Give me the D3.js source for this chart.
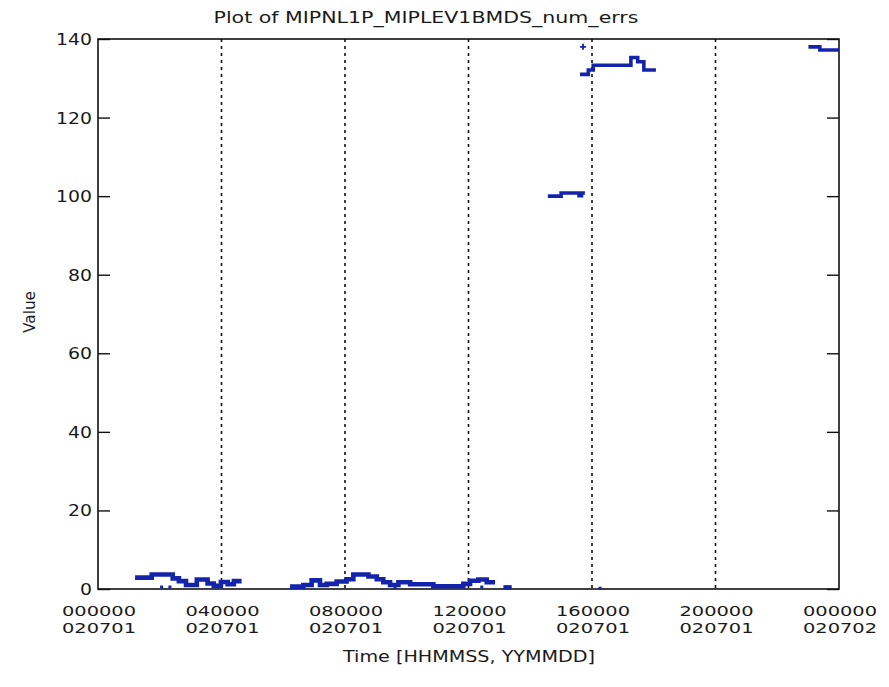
<!DOCTYPE html>
<html><head><meta charset="utf-8">
<script src="https://cdn.jsdelivr.net/npm/d3@7"></script>
<style>body{margin:0;background:#fff}svg{display:block}</style>
</head><body><svg id="c" width="889" height="687"></svg>
<script>
// ---- data ----
const titleText = "Plot of MIPNL1P_MIPLEV1BMDS_num_errs";
const xLabelText = "Time [HHMMSS, YYMMDD]";
const yLabelText = "Value";
const xTickHours = [0, 4, 8, 12, 16, 20, 24];
const xTickTimes = ["000000", "040000", "080000", "120000", "160000", "200000", "000000"];
const xTickDates = ["020701", "020701", "020701", "020701", "020701", "020701", "020702"];
const yTickValues = [0, 20, 40, 60, 80, 100, 120, 140];
const gridHours = [4, 8, 12, 16, 20];

// series segments: [hour, value]
const segLow1 = [[1.20,2.9],[1.74,3.7],[2.42,2.7],[2.62,2.0],[2.85,1.0],[3.20,2.4],[3.55,1.4],[3.75,0.8],[3.98,1.8],[4.20,1.2],[4.40,2.0],[4.65,2.0]];
const segLow2 = [[6.22,0.6],[6.65,1.0],[6.92,2.2],[7.19,1.0],[7.41,1.3],[7.73,1.9],[8.05,2.5],[8.27,3.7],[8.76,3.2],[9.03,2.5],[9.24,1.7],[9.46,1.0],[9.73,1.7],[10.11,1.2],[10.86,0.7],[11.83,1.3],[12.05,2.1],[12.32,2.4],[12.59,1.7],[12.86,1.7]];
const segLow3 = [[13.13,0.4],[13.40,0.4]];
const seg100 = [[14.57,100.0],[15.00,100.8],[15.58,100.1],[15.66,100.8],[15.77,100.8]];
const seg133 = [[15.61,131.0],[15.88,132.1],[16.04,133.3],[17.26,135.3],[17.48,134.2],[17.68,132.1],[18.07,132.1]];
const seg138 = [[23.01,138.0],[23.38,137.2],[24.0,137.2]];
const plusPoints = [[15.71,138.0]];
const dotPoints = [[2.06,0.5],[2.33,0.5],[9.62,0.4],[12.43,0.5],[16.26,0.2]];

// ---- layout ----
const L = 98, R = 839, T = 39, B = 589;
const svg = d3.select("#c");
const x = d3.scaleLinear().domain([0, 24]).range([L, R]);
const y = d3.scaleLinear().domain([0, 140]).range([B, T]);
const font = "'DejaVu Sans', sans-serif";
const txt = "#1a1a1a";
const blue = "#1424aa";

// grid (dotted)
svg.append("g").selectAll("line").data(gridHours).join("line")
  .attr("x1", d => x(d)).attr("x2", d => x(d))
  .attr("y1", T).attr("y2", B)
  .attr("stroke", "#111").attr("stroke-width", 1.6)
  .attr("stroke-dasharray", "3,4");

// y axes (ticks inward)
const yLeft = svg.append("g").attr("transform", `translate(${L},0)`)
  .call(d3.axisRight(y).tickValues(yTickValues).tickSize(12).tickFormat(""));
const yRight = svg.append("g").attr("transform", `translate(${R},0)`)
  .call(d3.axisLeft(y).tickValues(yTickValues).tickSize(12).tickFormat(""));
[yLeft, yRight].forEach(g => {
  g.select(".domain").remove();
  g.selectAll("line").attr("stroke", "#111").attr("stroke-width", 1.4);
});

// frame
svg.append("rect").attr("x", L).attr("y", T).attr("width", R - L).attr("height", B - T)
  .attr("fill", "none").attr("stroke", "#111").attr("stroke-width", 1.6);

// data
const line = d3.line().x(d => x(d[0])).y(d => y(d[1])).curve(d3.curveStepAfter);
svg.append("g").selectAll("path").data([segLow1, segLow2, segLow3]).join("path")
  .attr("d", line).attr("fill", "none").attr("stroke", blue).attr("stroke-width", 4.6);
svg.append("g").selectAll("path").data([seg100, seg133, seg138]).join("path")
  .attr("d", line).attr("fill", "none").attr("stroke", blue).attr("stroke-width", 3.6);
svg.append("g").selectAll("path").data(plusPoints).join("path")
  .attr("d", d => `M${x(d[0]) - 3},${y(d[1])}h6M${x(d[0])},${y(d[1]) - 3}v6`)
  .attr("stroke", blue).attr("stroke-width", 1.8);
svg.append("g").selectAll("rect").data(dotPoints).join("rect")
  .attr("x", d => x(d[0]) - 1.5).attr("y", d => y(d[1]) - 1.5)
  .attr("width", 3).attr("height", 3).attr("fill", blue);

// y tick labels
svg.append("g").selectAll("text").data(yTickValues).join("text")
  .attr("x", 92).attr("y", d => y(d) + 6)
  .attr("text-anchor", "end").attr("font-family", font).attr("font-size", 15).attr("fill", txt)
  .attr("textLength", d => String(d).length * 12).attr("lengthAdjust", "spacingAndGlyphs")
  .text(d => d);

// x tick labels (two lines)
const xl = svg.append("g");
xl.selectAll("text.t").data(xTickHours).join("text").attr("class", "t")
  .attr("x", d => x(d) + 1).attr("y", 616)
  .attr("text-anchor", "middle").attr("font-family", font).attr("font-size", 14).attr("fill", txt)
  .attr("textLength", 74).attr("lengthAdjust", "spacingAndGlyphs")
  .text((d, i) => xTickTimes[i]);
xl.selectAll("text.d").data(xTickHours).join("text").attr("class", "d")
  .attr("x", d => x(d) + 1).attr("y", 633)
  .attr("text-anchor", "middle").attr("font-family", font).attr("font-size", 14).attr("fill", txt)
  .attr("textLength", 74).attr("lengthAdjust", "spacingAndGlyphs")
  .text((d, i) => xTickDates[i]);

// axis titles
svg.append("text").attr("x", 469).attr("y", 662).attr("text-anchor", "middle")
  .attr("font-family", font).attr("font-size", 16).attr("fill", txt)
  .attr("textLength", 252).attr("lengthAdjust", "spacingAndGlyphs").text(xLabelText);
svg.append("text").attr("transform", "translate(35,312) rotate(-90)").attr("text-anchor", "middle")
  .attr("font-family", font).attr("font-size", 15).attr("fill", txt)
  .attr("textLength", 42).attr("lengthAdjust", "spacingAndGlyphs").text(yLabelText);

// title
svg.append("text").attr("x", 426).attr("y", 23).attr("text-anchor", "middle")
  .attr("font-family", font).attr("font-size", 16).attr("fill", txt)
  .attr("textLength", 425).attr("lengthAdjust", "spacingAndGlyphs").text(titleText);
</script></body></html>
